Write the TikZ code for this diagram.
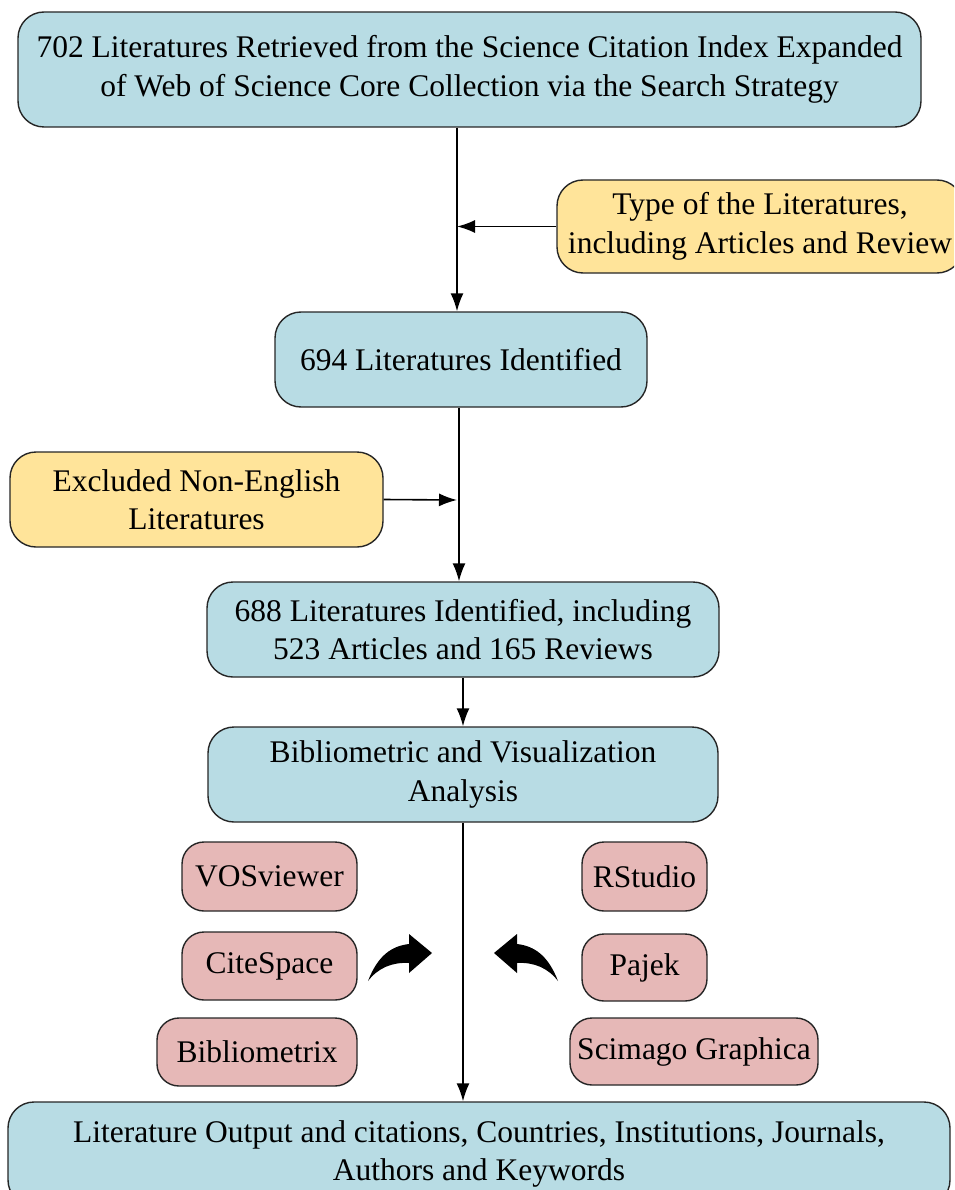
\documentclass[tikz,border=0pt]{standalone}
\usepackage{fontspec}
\setmainfont{Liberation Serif}
\usetikzlibrary{arrows.meta}
\definecolor{bboxc}{HTML}{B8DCE4}
\definecolor{yboxc}{HTML}{FFE49A}
\definecolor{pboxc}{HTML}{E6B8B7}
\begin{document}
\begin{tikzpicture}[x=1pt,y=-1pt,
  base/.style={draw=black!85, line width=1.4pt, rounded corners=26pt, align=center, inner sep=0pt,
     font=\fontsize{31.5}{38.5}\selectfont},
  bluebox/.style={base, fill=bboxc},
  yellowbox/.style={base, fill=yboxc},
  pinkbox/.style={base, fill=pboxc, rounded corners=22pt},
  arr/.style={line width=1.6pt, -{Latex[length=18pt,width=13pt]}}]
\useasboundingbox (0,0) rectangle (954,1190);
\begin{scope}
\clip (0,0) rectangle (954,1190);
\node[bluebox, minimum width=903pt, minimum height=115pt] (top) at (469.5,69.5)
  {702 Literatures Retrieved from the Science Citation Index Expanded\\of Web of Science Core Collection via the Search Strategy};
\node[yellowbox, minimum width=406pt, minimum height=93pt] (yR) at (760,226.5)
  {Type of the Literatures,\\including Articles and Review};
\node[bluebox, minimum width=372pt, minimum height=95pt] (n694) at (461,359.5)
  {694 Literatures Identified};
\node[yellowbox, minimum width=373pt, minimum height=95pt] (yL) at (196.5,499.5)
  {Excluded Non-English\\Literatures};
\node[bluebox, minimum width=512pt, minimum height=95pt] (n688) at (463,629.5)
  {688 Literatures Identified, including\\523 Articles and 165 Reviews};
\node[bluebox, minimum width=510pt, minimum height=95pt] (bib) at (463,774.5)
  {Bibliometric and Visualization\\Analysis};
\node[bluebox, minimum width=942pt, minimum height=104pt] (out) at (479,1154)
  {Literature Output and citations, Countries, Institutions, Journals,\\Authors and Keywords};
\node[pinkbox, minimum width=175pt, minimum height=69pt] (vos) at (269.5,876.5) {VOSviewer};
\node[pinkbox, minimum width=175pt, minimum height=68pt] (cite) at (269.5,966) {CiteSpace};
\node[pinkbox, minimum width=200pt, minimum height=68pt] (bibx) at (257,1052) {Bibliometrix};
\node[pinkbox, minimum width=125pt, minimum height=69pt] (rst) at (644.5,876.5) {RStudio};
\node[pinkbox, minimum width=125pt, minimum height=67pt] (paj) at (644.5,967.5) {Pajek};
\node[pinkbox, minimum width=248pt, minimum height=67pt] (sci) at (694,1051.5) {Scimago Graphica};

\coordinate (j1) at (457,226.5);
\coordinate (j2) at (457,500);
\coordinate (c3) at (459,0);
\coordinate (c4) at (463,0);
\draw[arr] (top.south -| j1) -- (n694.north -| j1);
\draw[arr] (yR.west) -- (j1);
\draw[arr] (n694.south -| c3) -- (n688.north -| c3);
\draw[arr] (yL.east) -- (j2);
\draw[arr] (n688.south -| c4) -- (bib.north -| c4);
\draw[arr] (bib.south -| c4) -- (out.north -| c4);

% curved arrows
\fill[black] (368,981) .. controls (378,955) and (392,946) .. (409,944)
  -- (409,934) -- (432,953) -- (409,973) -- (409,963)
  .. controls (392,962) and (378,968) .. (368,981) -- cycle;
\fill[black] (558,981) .. controls (548,955) and (534,946) .. (517,944)
  -- (517,934) -- (494,953) -- (517,973) -- (517,963)
  .. controls (534,962) and (548,968) .. (558,981) -- cycle;
\end{scope}
\end{tikzpicture}
\end{document}
